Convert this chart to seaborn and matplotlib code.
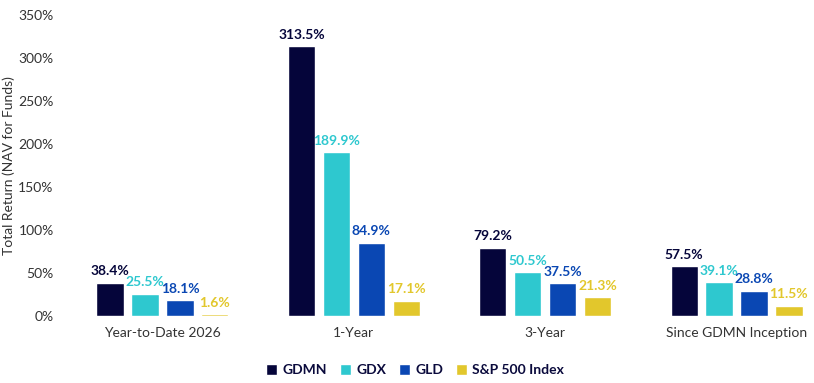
import seaborn as sns
import matplotlib.pyplot as plt
import pandas as pd
from matplotlib.ticker import FuncFormatter

# Values
periods = ["Year-to-Date 2026", "1-Year", "3-Year", "Since GDMN Inception"]
gdmn = [38.4, 313.5, 79.2, 57.5]
gdx = [25.5, 189.9, 50.5, 39.1]
gld = [18.1, 84.9, 37.5, 28.8]
spx = [1.6, 17.1, 21.3, 11.5]
series = ["GDMN", "GDX", "GLD", "S&P 500 Index"]
colors = ["#05053a", "#2ec8cf", "#0a47b3", "#e2c72c"]

df = pd.DataFrame({
    "Period": periods * 4,
    "Fund": [s for s in series for _ in periods],
    "Return": gdmn + gdx + gld + spx,
})

sns.set_style("white")
plt.rcParams["font.family"] = ["Lato", "DejaVu Sans"]

fig = plt.figure(figsize=(8.14, 3.83), dpi=100)
ax = fig.add_axes([62 / 814, 1 - 315.7 / 383, (814 - 62) / 814, 301 / 383])

sns.barplot(data=df, x="Period", y="Return", hue="Fund", hue_order=series,
            palette=colors, width=0.73, gap=0.22, saturation=1, ax=ax)

for cont, c in zip(ax.containers, colors):
    ax.bar_label(cont, labels=[f"{v:.1f}%" for v in cont.datavalues],
                 padding=4, color=c, fontsize=10, fontweight="bold")

ax.set_xlim(-0.525, 3.405)
ax.set_ylim(0, 350)
ax.set_yticks(range(0, 351, 50))
ax.yaxis.set_major_formatter(FuncFormatter(lambda v, p: f"{v:.0f}%"))
ax.set_xlabel("")
ax.set_ylabel("Total Return (NAV for Funds)", fontsize=10, color="#333333")
ax.yaxis.set_label_coords((15 - 62) / 752, 0.5)
ax.tick_params(axis="both", length=0, labelsize=10, colors="#333333")
ax.tick_params(axis="x", pad=8)
ax.tick_params(axis="y", pad=6)
sns.despine(ax=ax, left=True, bottom=True)

leg = ax.legend(loc="upper center", bbox_to_anchor=((415 - 62) / 752, -0.12), ncol=4,
                frameon=False, handlelength=0.8, handleheight=0.8, handletextpad=0.4,
                columnspacing=0.9, fontsize=10)
for t in leg.get_texts():
    t.set_fontweight("bold")
    t.set_color("#0a0a3c")

fig.savefig("out.png", dpi=100)
